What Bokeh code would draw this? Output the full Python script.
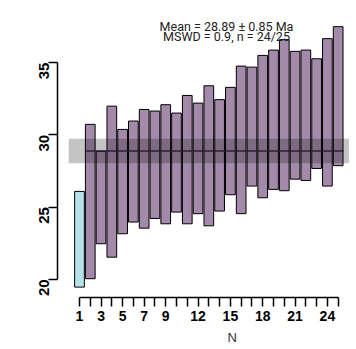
import math
from bokeh.plotting import figure
from bokeh.models import Range1d, FixedTicker, Label, ColumnDataSource, Title
from bokeh.embed import file_html
from bokeh.resources import INLINE

# ---- data ----
n_index = list(range(1, 26))
lower = [19.47, 20.05, 22.47, 21.54, 23.16, 23.97, 23.55, 24.22, 23.85, 24.66,
         23.85, 24.55, 23.71, 24.73, 25.86, 24.55, 26.46, 25.65, 26.23, 26.14,
         26.94, 26.85, 27.68, 26.46, 27.87]
upper = [26.09, 30.73, 28.86, 31.99, 30.38, 30.96, 31.76, 31.65, 32.09, 31.51,
         32.73, 32.20, 33.40, 32.44, 33.29, 34.76, 34.69, 35.50, 35.87, 36.59,
         35.78, 35.87, 35.27, 36.66, 37.49]
rejected = [True] + [False] * 24
mean_age = 28.89
mean_err = 0.85
y_ticks = [20, 25, 30, 35]
x_tick_labels = [1, 3, 5, 7, 9, 12, 15, 18, 21, 24]
title_lines = ["Mean = 28.89 \u00b1 0.85 Ma", "MSWD = 0.9, n = 24/25"]
x_label = "N"

purple = "#a48aaa"
cyan = "#b6e2e8"
colors = [cyan if r else purple for r in rejected]

src = ColumnDataSource(dict(
    left=[i - 0.45 for i in n_index],
    right=[i + 0.45 for i in n_index],
    bottom=lower, top=upper, color=colors))

p = figure(width=356, height=349,
           x_range=Range1d(-1.04, 26.70), y_range=Range1d(18.75, 39.30),
           min_border_left=57, min_border_right=0, min_border_top=0,
           min_border_bottom=52, outline_line_color=None,
           toolbar_location=None, output_backend="svg",
           background_fill_color="white", border_fill_color="white")
p.grid.visible = False

p.quad(left="left", right="right", bottom="bottom", top="top",
       fill_color="color", line_color="black", line_width=1, source=src)

# band of the weighted mean (darkening overlay)
p.quad(left=[0], right=[26], bottom=[mean_age - mean_err], top=[mean_age + mean_err],
       fill_color="black", fill_alpha=0.23, line_color=None)
first_acc = n_index[rejected.index(False)]
p.line(x=[first_acc - 0.5, n_index[-1] + 0.5], y=[mean_age, mean_age],
       line_color="#2a1a30", line_alpha=0.7, line_width=2)

# axes
xa = p.xaxis[0]
xa.ticker = FixedTicker(ticks=n_index)
xa.bounds = (n_index[0], n_index[-1])
xa.major_label_overrides = {i: (str(i) if i in x_tick_labels else "") for i in n_index}
xa.major_tick_out = 9
xa.major_tick_in = 0
xa.minor_tick_out = 0
xa.minor_tick_in = 0
xa.axis_line_width = 1.5
xa.major_tick_line_width = 1.5
xa.major_label_standoff = 4
xa.major_label_text_font = "Liberation Sans"
xa.major_label_text_font_style = "bold"
xa.major_label_text_font_size = "14px"
xa.major_label_text_color = "black"

ya = p.yaxis[0]
ya.ticker = FixedTicker(ticks=y_ticks)
ya.bounds = (y_ticks[0], y_ticks[-1])
ya.major_tick_out = 9
ya.major_tick_in = 0
ya.minor_tick_out = 0
ya.minor_tick_in = 0
ya.axis_line_width = 1.5
ya.major_tick_line_width = 1.5
ya.major_label_standoff = 4
ya.major_label_orientation = math.pi / 2
ya.major_label_text_font = "Liberation Sans"
ya.major_label_text_font_style = "bold"
ya.major_label_text_font_size = "15px"
ya.major_label_text_color = "black"

# title text
for txt, yv in zip(title_lines, [37.50, 36.81]):
    p.add_layout(Label(x=14.64, y=yv, text=txt, text_align="center",
                       text_baseline="alphabetic", text_font="Roboto",
                       text_font_size="12.5px", text_color="#222222"))

p.add_layout(Title(text=x_label, align="left", offset=170, standoff=8,
                   text_font="Liberation Sans", text_font_style="normal",
                   text_font_size="13px", text_color="#333333"), "below")

open("out.html", "w").write(file_html(p, INLINE))
